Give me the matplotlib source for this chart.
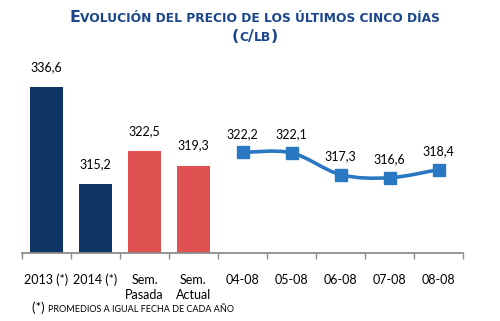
import matplotlib
matplotlib.use("Agg")
import matplotlib.pyplot as plt
from matplotlib.path import Path
from matplotlib.patches import PathPatch
import numpy as np

# datos
bar_labels = ["2013 (*)", "2014 (*)", "Sem.\nPasada", "Sem.\nActual"]
bar_values = [336.6, 315.2, 322.5, 319.3]
bar_colors = ["#0e3563", "#0e3563", "#e05252", "#e05252"]
day_labels = ["04-08", "05-08", "06-08", "07-08", "08-08"]
day_values = [322.2, 322.1, 317.3, 316.6, 318.4]

title_col = "#1b468c"
line_col = "#2a78c2"
base = 300

plt.rcParams['font.family'] = ['Lato', 'DejaVu Sans']

fig = plt.figure(figsize=(5, 3.21), dpi=100)
ax = fig.add_axes([0.044, 0.212, 0.882, 0.635])

xb = np.arange(len(bar_values))
ax.bar(xb, np.array(bar_values) - base, bottom=base, width=0.66, color=bar_colors)
for x, v in zip(xb, bar_values):
    ax.annotate(f"{v:.1f}".replace(".", ","), (x, v), xytext=(0, 10), textcoords="offset points",
                ha="center", va="bottom", fontsize=9)

xd = np.arange(len(day_values)) + len(bar_values)
yd = np.array(day_values)
# curva suavizada (catmull-rom -> bezier)
verts = [(xd[0], yd[0])]
codes = [Path.MOVETO]
n = len(xd)
for i in range(n - 1):
    p0 = np.array([xd[max(i - 1, 0)], yd[max(i - 1, 0)]])
    p1 = np.array([xd[i], yd[i]])
    p2 = np.array([xd[i + 1], yd[i + 1]])
    p3 = np.array([xd[min(i + 2, n - 1)], yd[min(i + 2, n - 1)]])
    c1 = p1 + (p2 - p0) / 6
    c2 = p2 - (p3 - p1) / 6
    verts += [tuple(c1), tuple(c2), tuple(p2)]
    codes += [Path.CURVE4] * 3
ax.add_patch(PathPatch(Path(verts, codes), fill=False, edgecolor=line_col, lw=2.6, zorder=3))
ax.plot(xd, yd, ls="none", marker="s", ms=8, color=line_col, zorder=4)
for x, v in zip(xd, day_values):
    ax.annotate(f"{v:.1f}".replace(".", ","), (x, v), xytext=(0, 9), textcoords="offset points",
                ha="center", va="bottom", fontsize=9)

ax.set_xlim(-0.5, 8.5)
ax.set_ylim(base, 345)
for s in ["top", "right", "left"]:
    ax.spines[s].set_visible(False)
ax.spines["bottom"].set_color("#8c8c8c")
ax.spines["bottom"].set_linewidth(1.3)
ax.set_yticks([])
ax.set_xticks(np.arange(-0.5, 9, 1))
ax.set_xticklabels([])
ax.tick_params(axis="x", length=4, color="#8c8c8c", width=1)
ax.set_xticks(np.arange(9), bar_labels + day_labels, minor=True)
ax.tick_params(axis="x", which="minor", length=0, pad=15, labelsize=9)
for t in ax.get_xticklabels(minor=True):
    t.set_linespacing(1.3)

r = fig.canvas.get_renderer()
W = fig.get_figwidth() * fig.dpi


def caps_text(parts, y, x0=None, cx=None, color="black"):
    texts = []
    x = 0.0
    for s, size in parts:
        t = fig.text(x, y, s, fontsize=size, weight="bold", color=color, va="baseline",
                     family=["DejaVu Sans"])
        w = t.get_window_extent(r).width / W
        texts.append((t, x))
        x += w
    start = x0 if x0 is not None else cx - x / 2
    for t, xx in texts:
        t.set_x(start + xx)


caps_text([("E", 11.3), ("VOLUCIÓN DEL PRECIO DE LOS ÚLTIMOS CINCO DÍAS", 8.8)],
          0.932, cx=0.51, color=title_col)
caps_text([("(", 11.3), ("C", 8.8), ("/", 11.3), ("LB", 8.8), (")", 11.3)],
          0.873, cx=0.51, color=title_col)


def foot_text(parts, y, x0):
    x = x0
    for s, size, fam in parts:
        t = fig.text(x, y, s, fontsize=size, va="baseline", family=fam)
        x += t.get_window_extent(r).width / W


foot_text([("(*) ", 9.5, ["Lato"]), ("PROMEDIOS A IGUAL FECHA DE CADA AÑO", 6.5, ["Lato"])],
          0.027, 0.064)

fig.savefig("out.png", dpi=100)
